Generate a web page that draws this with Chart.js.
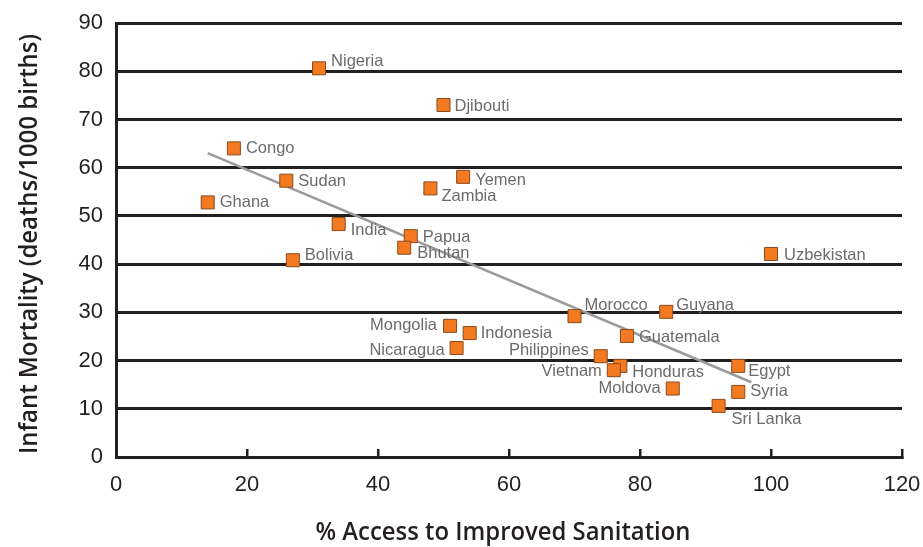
<!DOCTYPE html>
<html>
<head>
<meta charset="utf-8">
<script src="https://cdn.jsdelivr.net/npm/chart.js@4.4.1/dist/chart.umd.min.js"></script>
<style>
  body { margin: 0; background: #fff; }
  #wrap { width: 923px; height: 547px; }
</style>
</head>
<body>
<div id="wrap"><canvas id="sanitationChart"></canvas></div>
<script>
let countries = ["Nigeria", "Djibouti", "Congo", "Sudan", "Yemen", "Zambia", "Ghana", "India",
    "Papua", "Bhutan", "Bolivia", "Uzbekistan", "Morocco", "Guyana", "Mongolia", "Indonesia",
    "Nicaragua", "Guatemala", "Philippines", "Honduras", "Vietnam", "Egypt", "Moldova", "Syria", "Sri Lanka"];
let sanitation = [31, 50, 18, 26, 53, 48, 14, 34, 45, 44, 27, 100, 70, 84, 51, 54, 52, 78, 74, 77, 76, 95, 85, 95, 92];
let mortality = [80.6, 73, 64, 57.3, 58.1, 55.7, 52.8, 48.3, 45.8, 43.4, 40.8, 42.1, 29.2, 30.1, 27.2, 25.7,
    22.6, 25.1, 20.9, 18.9, 18, 18.9, 14.2, 13.5, 10.6];

let trendX = [14, 97];
let trendY = [63, 15.5];

let xTicks = [0, 20, 40, 60, 80, 100, 120];
let yTicks = [0, 10, 20, 30, 40, 50, 60, 70, 80, 90];

let xTitle = "% Access to Improved Sanitation";
let yTitle = "Infant Mortality (deaths/1000 births)";

// where each name sits next to its square: [dx, dy, align]
let labelPlace = {
    "Nigeria": [12, -7], "Djibouti": [11, 1], "Congo": [12, 0], "Sudan": [12, 1],
    "Yemen": [12, 4], "Zambia": [11, 8], "Ghana": [12, 0], "India": [12, 6],
    "Papua": [12, 1], "Bhutan": [13, 6], "Bolivia": [12, -5], "Uzbekistan": [13, 1],
    "Morocco": [10, -11], "Guyana": [10, -6], "Mongolia": [-13, 0, "right"], "Indonesia": [11, 0],
    "Nicaragua": [-12, 2, "right"], "Guatemala": [12, 1], "Philippines": [-12, -6, "right"],
    "Honduras": [12, 7], "Vietnam": [-12, 1, "right"], "Egypt": [10, 6],
    "Moldova": [-12, 0, "right"], "Syria": [12, 0], "Sri Lanka": [13, 14]
};

let ink = "#231f20";

const pointNames = {
    id: "pointNames",
    afterDatasetsDraw(chart) {
        const ctx = chart.ctx;
        const meta = chart.getDatasetMeta(0);
        ctx.save();
        ctx.font = '16.5px "Liberation Sans", Arial, sans-serif';
        ctx.fillStyle = "#6b6b6b";
        ctx.textBaseline = "middle";
        meta.data.forEach((pt, i) => {
            const p = labelPlace[countries[i]] || [12, 0];
            ctx.textAlign = p[2] || "left";
            ctx.fillText(countries[i], pt.x + p[0], pt.y + p[1]);
        });
        ctx.restore();
    }
};

// axis titles, squeezed a bit to look like the condensed face in the original
const axisTitles = {
    id: "axisTitles",
    afterDraw(chart) {
        const ctx = chart.ctx;
        const area = chart.chartArea;
        ctx.save();
        ctx.font = '600 26px "Open Sans", sans-serif';
        ctx.fillStyle = ink;
        ctx.textAlign = "center";
        ctx.textBaseline = "middle";

        let w = ctx.measureText(xTitle).width;
        ctx.save();
        ctx.translate((area.left + area.right) / 2 - 6, 533);
        ctx.scale(375 / w, 1);
        ctx.fillText(xTitle, 0, 0);
        ctx.restore();

        w = ctx.measureText(yTitle).width;
        ctx.save();
        ctx.translate(30, (area.top + area.bottom) / 2 + 4);
        ctx.rotate(-Math.PI / 2);
        ctx.scale(420 / w, 1);
        ctx.fillText(yTitle, 0, 0);
        ctx.restore();
        ctx.restore();
    }
};

new Chart("sanitationChart", {
    type: "scatter",
    data: {
        datasets: [{
            data: sanitation.map((x, i) => ({x: x, y: mortality[i]})),
            pointStyle: "rect",
            pointRadius: 9.2,
            pointHoverRadius: 9.2,
            backgroundColor: "#f37a21",
            borderColor: "#8a4a1e",
            borderWidth: 1
        }, {
            data: trendX.map((x, i) => ({x: x, y: trendY[i]})),
            showLine: true,
            borderColor: "#9b9b9b",
            borderWidth: 2.5,
            pointRadius: 0
        }]
    },
    options: {
        responsive: true,
        maintainAspectRatio: false,
        animation: false,
        layout: { padding: 0 },
        plugins: {
            legend: { display: false },
            tooltip: { enabled: false }
        },
        scales: {
            x: {
                type: "linear",
                min: xTicks[0],
                max: xTicks[xTicks.length - 1],
                ticks: {
                    stepSize: xTicks[1] - xTicks[0],
                    padding: 23,
                    color: ink,
                    font: { family: '"Liberation Sans", Arial, sans-serif', size: 22 }
                },
                grid: { drawOnChartArea: false, drawTicks: true, tickLength: -8, color: ink, lineWidth: 2.5 },
                border: { display: true, color: ink, width: 3 },
                afterFit(scale) {
                    scale.height = 90;
                    scale.paddingRight = 21;
                }
            },
            y: {
                min: yTicks[0],
                max: yTicks[yTicks.length - 1],
                ticks: {
                    stepSize: yTicks[1] - yTicks[0],
                    padding: 13,
                    color: ink,
                    font: { family: '"Liberation Sans", Arial, sans-serif', size: 22 }
                },
                grid: { drawTicks: false, color: ink, lineWidth: 3 },
                border: { display: true, color: ink, width: 3 },
                afterFit(scale) {
                    scale.width = 116;
                    scale.paddingTop = 23;
                }
            }
        }
    },
    plugins: [pointNames, axisTitles]
});
</script>
</body>
</html>
